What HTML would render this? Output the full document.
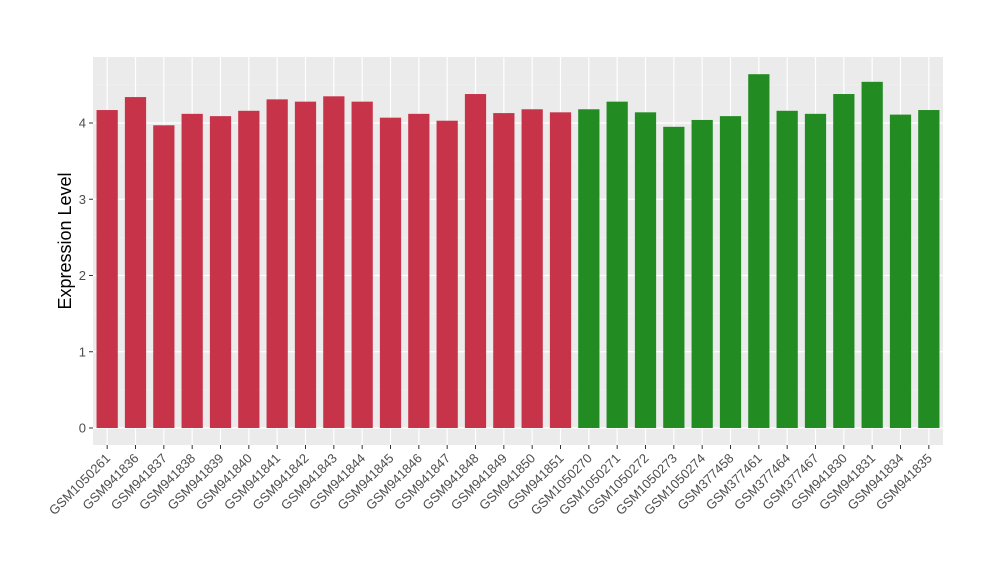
<!DOCTYPE html>
<html><head><meta charset="utf-8"><style>body{margin:0;background:#fff}svg{display:block;font-family:"Liberation Sans",sans-serif}</style></head>
<body>
<svg id="chart" width="1000" height="580"></svg>
<script>
const categories=["GSM1050261","GSM941836","GSM941837","GSM941838","GSM941839","GSM941840","GSM941841","GSM941842","GSM941843","GSM941844","GSM941845","GSM941846","GSM941847","GSM941848","GSM941849","GSM941850","GSM941851","GSM1050270","GSM1050271","GSM1050272","GSM1050273","GSM1050274","GSM377458","GSM377461","GSM377464","GSM377467","GSM941830","GSM941831","GSM941834","GSM941835"];
const values=[4.17,4.34,3.97,4.12,4.09,4.16,4.31,4.28,4.35,4.28,4.07,4.12,4.03,4.38,4.13,4.18,4.14,4.18,4.28,4.14,3.95,4.04,4.09,4.64,4.16,4.12,4.38,4.54,4.11,4.17];
const groups=[0,0,0,0,0,0,0,0,0,0,0,0,0,0,0,0,0,1,1,1,1,1,1,1,1,1,1,1,1,1];
const yTicks=[0,1,2,3,4];
const colors=["#C7344A","#228B22"];
const svg=document.getElementById('chart');const NS="http://www.w3.org/2000/svg";
const L=93,R=943,T=57,B=445;
const y=v=>428-v*76.25;
const step=(R-L)/categories.length;
const x=i=>L+step*(i+0.5);
function mk(t,a,p){const e=document.createElementNS(NS,t);for(const k in a)e.setAttribute(k,a[k]);(p||svg).appendChild(e);return e;}
const panel=mk('rect',{x:L,y:T,width:R-L,height:B-T,fill:'#EBEBEB'});


for(let v=0.5;v<4.9;v+=1){const g=mk('line',{x1:L,x2:R,y1:y(v),y2:y(v),stroke:'#F5F5F5','stroke-width':0.6});

}
yTicks.forEach(v=>{const g=mk('line',{x1:L,x2:R,y1:y(v),y2:y(v),stroke:'#fff','stroke-width':1.2});


mk('line',{x1:89,x2:L,y1:y(v),y2:y(v),stroke:'#333','stroke-width':1});
const t=mk('text',{x:86,y:y(v)+4.5,'text-anchor':'end','font-size':13,fill:'#4d4d4d'});t.textContent=v;

});
categories.forEach((c,i)=>{const g=mk('line',{x1:x(i),x2:x(i),y1:T,y2:B,stroke:'#fff','stroke-width':1.2});

});
categories.forEach((c,i)=>{const w=step*0.75;
const b=mk('rect',{x:x(i)-w/2,y:y(values[i]),width:w,height:y(0)-y(values[i]),fill:colors[groups[i]]});


mk('line',{x1:x(i),x2:x(i),y1:B,y2:B+4,stroke:'#333','stroke-width':1});
const t=mk('text',{x:x(i)+4,y:B+14,'text-anchor':'end','font-size':13,fill:'#4d4d4d',transform:`rotate(-45 ${x(i)+4} ${B+14})`});t.textContent=c;

});
const yt=mk('text',{x:71,y:(T+B)/2-10,'text-anchor':'middle','font-size':18,fill:'#000',transform:`rotate(-90 71 ${(T+B)/2-10})`});yt.textContent='Expression Level';


</script>
</body></html>
